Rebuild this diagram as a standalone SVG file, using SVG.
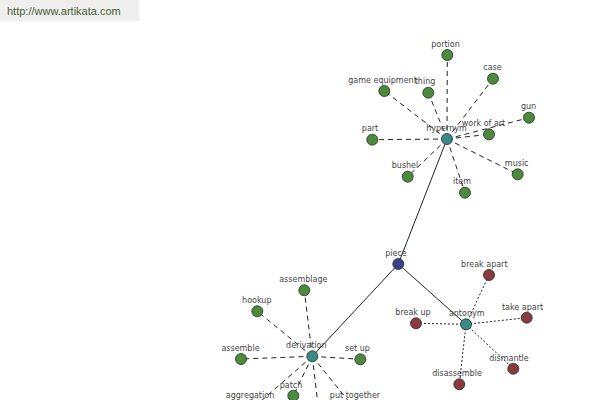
<svg xmlns="http://www.w3.org/2000/svg" width="600" height="400" viewBox="0 0 600 400">
<style>
.e{stroke:#222;stroke-width:1;fill:none}
.d{stroke-dasharray:5,4}
.o{stroke-dasharray:2,2}
.n circle{stroke:#1e2e1e;stroke-width:0.8}
.g circle{fill:#4d8a3e}
.c circle{fill:#3a8a8a}
.b circle{fill:#3c3f8e}
.r circle{fill:#8a3a3e}
text{font-family:"DejaVu Sans",Verdana,sans-serif;font-size:8px;fill:#444;text-anchor:middle}
</style>
<rect x="0" y="0" width="139" height="21" fill="#eeeeee"/>
<text x="7" y="15" style="font-family:'Liberation Sans',Arial,sans-serif;font-size:11px;fill:#44612f;text-anchor:start">http://www.artikata.com</text>
<g id="connectors">
<line class="e" x1="447" y1="139" x2="398.3" y2="264"/>
<line class="e" x1="398.3" y1="264" x2="312.3" y2="356.3"/>
<line class="e" x1="398.3" y1="264" x2="466" y2="324.3"/>
<line class="e d" x1="447" y1="139" x2="447.3" y2="55"/>
<line class="e d" x1="447" y1="139" x2="493" y2="78.7"/>
<line class="e d" x1="447" y1="139" x2="384.3" y2="91"/>
<line class="e d" x1="447" y1="139" x2="428.3" y2="92.7"/>
<line class="e d" x1="447" y1="139" x2="529" y2="117.7"/>
<line class="e d" x1="447" y1="139" x2="489" y2="134.3"/>
<line class="e d" x1="447" y1="139" x2="372.3" y2="139.7"/>
<line class="e d" x1="447" y1="139" x2="407.7" y2="176.7"/>
<line class="e d" x1="447" y1="139" x2="517.7" y2="174.3"/>
<line class="e d" x1="447" y1="139" x2="465" y2="192.7"/>
<line class="e d" x1="312.3" y1="356.3" x2="304.3" y2="290.3"/>
<line class="e d" x1="312.3" y1="356.3" x2="257.3" y2="311.3"/>
<line class="e d" x1="312.3" y1="356.3" x2="241" y2="359"/>
<line class="e d" x1="312.3" y1="356.3" x2="360.3" y2="359.3"/>
<line class="e d" x1="312.3" y1="356.3" x2="293.3" y2="395.7"/>
<line class="e d" x1="312.3" y1="356.3" x2="253" y2="408"/>
<line class="e d" x1="312.3" y1="356.3" x2="354" y2="408"/>
<line class="e d" x1="312.3" y1="356.3" x2="321" y2="430"/>
<line class="e o" x1="466" y1="324.3" x2="489" y2="275"/>
<line class="e o" x1="466" y1="324.3" x2="416" y2="323.3"/>
<line class="e o" x1="466" y1="324.3" x2="526.7" y2="317.7"/>
<line class="e o" x1="466" y1="324.3" x2="513.3" y2="368.7"/>
<line class="e o" x1="466" y1="324.3" x2="459.3" y2="384.3"/>
</g>
<g id="hypernym" class="n c"><circle cx="447" cy="139" r="5.5"/><text x="446.5" y="131">hypernym</text></g>
<g id="portion" class="n g"><circle cx="447.3" cy="55" r="5.5"/><text x="445.5" y="47">portion</text></g>
<g id="case" class="n g"><circle cx="493" cy="78.7" r="5.5"/><text x="492.5" y="70">case</text></g>
<g id="game-equipment" class="n g"><circle cx="384.3" cy="91" r="5.5"/><text x="382.5" y="82.5">game equipment</text></g>
<g id="thing" class="n g"><circle cx="428.3" cy="92.7" r="5.5"/><text x="425" y="84">thing</text></g>
<g id="gun" class="n g"><circle cx="529" cy="117.7" r="5.5"/><text x="528.5" y="109">gun</text></g>
<g id="work-of-art" class="n g"><circle cx="489" cy="134.3" r="5.5"/><text x="483.5" y="125.5">work of art</text></g>
<g id="part" class="n g"><circle cx="372.3" cy="139.7" r="5.5"/><text x="370" y="131">part</text></g>
<g id="bushel" class="n g"><circle cx="407.7" cy="176.7" r="5.5"/><text x="405" y="168">bushel</text></g>
<g id="music" class="n g"><circle cx="517.7" cy="174.3" r="5.5"/><text x="516.7" y="166">music</text></g>
<g id="item" class="n g"><circle cx="465" cy="192.7" r="5.5"/><text x="462" y="184">item</text></g>
<g id="piece" class="n b"><circle cx="398.3" cy="264" r="5.5"/><text x="396" y="255.5">piece</text></g>
<g id="derivation" class="n c"><circle cx="312.3" cy="356.3" r="5.5"/><text x="306.3" y="348">derivation</text></g>
<g id="assemblage" class="n g"><circle cx="304.3" cy="290.3" r="5.5"/><text x="303.3" y="282">assemblage</text></g>
<g id="hookup" class="n g"><circle cx="257.3" cy="311.3" r="5.5"/><text x="256.8" y="303">hookup</text></g>
<g id="assemble" class="n g"><circle cx="241" cy="359" r="5.5"/><text x="240.5" y="350.5">assemble</text></g>
<g id="set-up" class="n g"><circle cx="360.3" cy="359.3" r="5.5"/><text x="357.5" y="351">set up</text></g>
<g id="patch" class="n g"><circle cx="293.3" cy="395.7" r="5.5"/><text x="291" y="387.5">patch</text></g>
<g id="aggregation" class="n g"><circle cx="253" cy="408" r="5.5"/><text x="250" y="398">aggregation</text></g>
<g id="put-together" class="n g"><circle cx="354" cy="408" r="5.5"/><text x="355" y="398">put together</text></g>
<g id="antonym" class="n c"><circle cx="466" cy="324.3" r="5.5"/><text x="466.7" y="315.8">antonym</text></g>
<g id="break-apart" class="n r"><circle cx="489" cy="275" r="5.5"/><text x="484.3" y="266.7">break apart</text></g>
<g id="break-up" class="n r"><circle cx="416" cy="323.3" r="5.5"/><text x="413" y="315">break up</text></g>
<g id="take-apart" class="n r"><circle cx="526.7" cy="317.7" r="5.5"/><text x="522.5" y="309.5">take apart</text></g>
<g id="dismantle" class="n r"><circle cx="513.3" cy="368.7" r="5.5"/><text x="509" y="360.5">dismantle</text></g>
<g id="disassemble" class="n r"><circle cx="459.3" cy="384.3" r="5.5"/><text x="457" y="376">disassemble</text></g>
</svg>
